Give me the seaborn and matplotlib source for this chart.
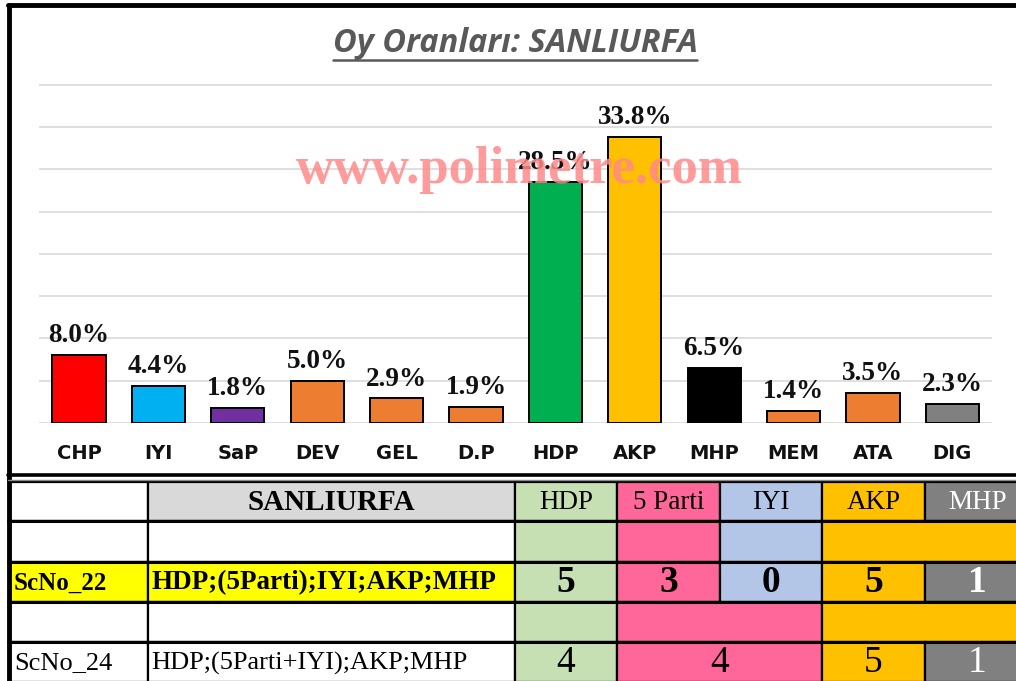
import matplotlib
matplotlib.use("Agg")
import matplotlib.pyplot as plt
import seaborn as sns
import pandas as pd
from matplotlib.patches import Rectangle
from matplotlib.lines import Line2D

# vote shares (%)
parties = ["CHP", "IYI", "SaP", "DEV", "GEL", "D.P", "HDP", "AKP", "MHP", "MEM", "ATA", "DIG"]
shares = [8.0, 4.4, 1.8, 5.0, 2.9, 1.9, 28.5, 33.8, 6.5, 1.4, 3.5, 2.3]
bar_colors = ["#FF0000", "#00B0F0", "#7030A0", "#ED7D31", "#ED7D31", "#ED7D31",
              "#00B050", "#FFC000", "#000000", "#ED7D31", "#ED7D31", "#808080"]

# seat table
table_title = "SANLIURFA"
seat_headers = ["HDP", "5 Parti", "IYI", "AKP", "MHP"]
header_colors = ["#C6E0B4", "#FF6699", "#B4C6E7", "#FFC000", "#808080"]
sc_names = ["ScNo_22", "ScNo_24"]
sc_desc = ["HDP;(5Parti);IYI;AKP;MHP", "HDP;(5Parti+IYI);AKP;MHP"]
sc22_seats = [5, 3, 0, 5, 1]
sc22_spans = [1, 1, 1, 1, 1]
sc22_group_spans = [1, 1, 1, 2]
sc22_group_colors = ["#C6E0B4", "#FF6699", "#B4C6E7", "#FFC000"]
sc24_seats = [4, 4, 5, 1]
sc24_spans = [1, 2, 1, 1]
sc24_group_spans = [1, 2, 2]
sc24_group_colors = ["#C6E0B4", "#FF6699", "#FFC000"]

W, H = 1016, 681
fig = plt.figure(figsize=(W / 100, H / 100), dpi=100)
sns.set_style("white")

# ---- bar chart ----
ax = fig.add_axes([39.3 / W, (H - 423) / H, 952.7 / W, 342.6 / H])
df = pd.DataFrame({"party": parties, "share": shares})
sns.barplot(data=df, x="party", y="share", hue="party", palette=bar_colors,
            legend=False, width=0.67, edgecolor="black", linewidth=1.4,
            saturation=1, ax=ax, zorder=3)
ax.set_ylim(0, 40.5)
ax.set_xlim(-0.5, len(parties) - 0.5)
ax.set_yticks(range(0, 41, 5))
ax.yaxis.grid(True, color="#D9D9D9", lw=1.2, zorder=0)
ax.set_axisbelow(True)
for s in ax.spines.values():
    s.set_visible(False)
ax.set_yticklabels([])
ax.tick_params(axis="both", length=0)
ax.tick_params(axis="x", pad=15)
ax.set_xlabel("")
ax.set_ylabel("")
for lbl in ax.get_xticklabels():
    lbl.set_fontfamily("DejaVu Sans")
    lbl.set_fontweight("bold")
    lbl.set_fontsize(14)
    lbl.set_color("#111111")
ax.patch.set_alpha(0)

for i, v in enumerate(shares):
    ax.annotate(f"{v:.1f}%", (i, v), xytext=(0, 5), textcoords="offset points",
                ha="center", va="bottom", fontsize=19.5, fontweight="bold",
                family="Liberation Serif", color="#111111", zorder=5)

# title
title = fig.text(515 / W, 1 - 44 / H, "Oy Oranları: SANLIURFA", ha="center", va="center",
                 fontsize=23.5, style="italic", fontweight="bold", family="Open Sans",
                 color="#595959")

# watermark
fig.text(519 / W, 1 - 170 / H, "www.polimetre.com", ha="center", va="center",
         fontsize=38, fontweight="bold", family="Liberation Serif",
         color="#FF8A8A", alpha=0.85, zorder=10)

# ---- table / frame overlay ----
tx = fig.add_axes([0, 0, 1, 1], zorder=-1)
tx.set_xlim(0, W)
tx.set_ylim(H, 0)
tx.axis("off")

cols = [10, 148, 515, 617, 720, 822, 925, 1030]
rows = [482, 521, 562, 602, 642, 682]


def cell(c0, c1, r, color):
    tx.add_patch(Rectangle((cols[c0], rows[r]), cols[c1] - cols[c0], rows[r + 1] - rows[r],
                           facecolor=color, edgecolor="black", lw=1.6))


def ctext(c0, c1, r, s, **kw):
    tx.text((cols[c0] + cols[c1]) / 2, (rows[r] + rows[r + 1]) / 2 + 1, s,
            ha="center", va="center", family="Liberation Serif", **kw)


# header row
cell(0, 1, 0, "white")
cell(1, 2, 0, "#D9D9D9")
ctext(1, 2, 0, table_title, fontsize=21, fontweight="bold", color="black")
for j, (h, c) in enumerate(zip(seat_headers, header_colors)):
    cell(2 + j, 3 + j, 0, c)
    ctext(2 + j, 3 + j, 0, h, fontsize=19.5, color="white" if h == "MHP" else "black")

# scenario blocks
blocks = [
    (1, sc_names[0], sc_desc[0], sc22_seats, sc22_spans, sc22_group_spans,
     sc22_group_colors, "#FFFF00", "bold"),
    (3, sc_names[1], sc_desc[1], sc24_seats, sc24_spans, sc24_group_spans,
     sc24_group_colors, "white", "normal"),
]
for r, name, desc, seats, spans, gspans, gcolors, bg, fw in blocks:
    cell(0, 1, r, "white")
    cell(1, 2, r, "white")
    c = 2
    for sp, col in zip(gspans, gcolors):
        cell(c, c + sp, r, col)
        c += sp
    cell(0, 1, r + 1, bg)
    cell(1, 2, r + 1, bg)
    tx.text(cols[0] + 4, (rows[r + 1] + rows[r + 2]) / 2 + 1, name, ha="left", va="center",
            family="Liberation Serif", fontsize=18 if fw == "bold" else 19,
            fontweight=fw, color="black")
    tx.text(cols[1] + 3, (rows[r + 1] + rows[r + 2]) / 2 + 1, desc, ha="left", va="center",
            family="Liberation Serif", fontsize=19.5 if fw == "bold" else 19,
            fontweight=fw, color="black")
    c = 2
    for k, (s, sp) in enumerate(zip(seats, spans)):
        col = header_colors[c - 2] if k < len(seats) - 1 else "#808080"
        cell(c, c + sp, r + 1, col)
        ctext(c, c + sp, r + 1, str(s), fontsize=27, fontweight=fw,
              color="white" if col == "#808080" else "black")
        c += sp

# heavier row separators
for y in rows[1:-1]:
    tx.add_line(Line2D([8, W], [y, y], color="black", lw=2.2))

# outer frame and separator
tx.add_line(Line2D([8, W], [5, 5], color="black", lw=3.5))
tx.add_line(Line2D([9, 9], [5, H], color="black", lw=3.5))
tx.add_line(Line2D([8, W], [475, 475], color="black", lw=2.6))
tx.add_line(Line2D([8, W], [479.5, 479.5], color="#888888", lw=1.0))

# title underline
fig.canvas.draw()
bb = title.get_window_extent()
uy = bb.y0 + 1
fig.add_artist(Line2D([bb.x0 / W, bb.x1 / W], [uy / H, uy / H], color="#595959", lw=1.8))

fig.savefig("out.png", dpi=100)
